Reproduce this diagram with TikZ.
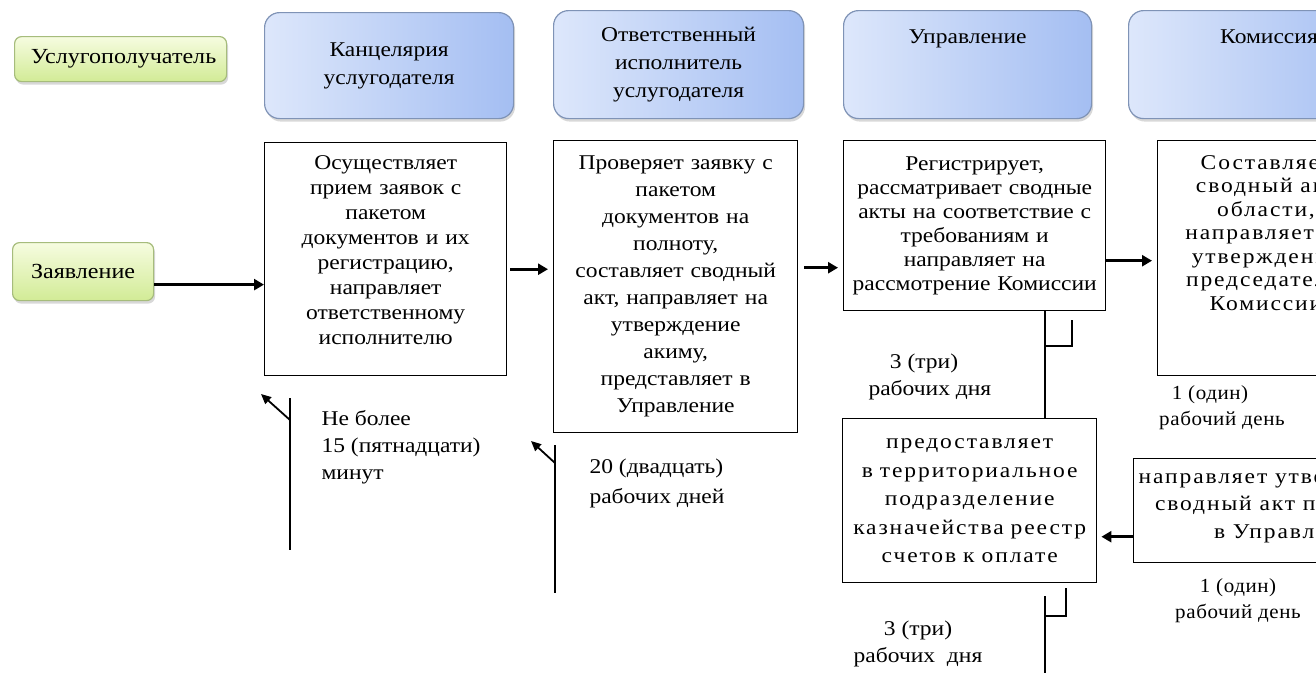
\documentclass[tikz,border=0pt]{standalone}
\usepackage{fontspec}
\setmainfont{Liberation Serif}[FakeStretch=1.12]
\newfontfamily\widefont{Liberation Serif}[FakeStretch=1.12, LetterSpace=9]
\newfontfamily\notefont{Liberation Serif}[FakeStretch=1.05, LetterSpace=3]
\usetikzlibrary{arrows.meta,shadows}
\definecolor{hdrlight}{HTML}{DDE7FB}
\definecolor{hdrdark}{HTML}{A4BEF2}
\definecolor{hdrline}{HTML}{7F93B6}
\definecolor{grnlight}{HTML}{F6FCE0}
\definecolor{grndark}{HTML}{D2EB96}
\definecolor{grnline}{HTML}{A6BC7C}
\newcommand\padbot[1]{\rule[-#1pt]{0pt}{#1pt}}
\tikzset{
  hdrbox/.style={draw=hdrline, line width=1.2pt, rounded corners=15pt,
    left color=hdrlight, right color=hdrdark, anchor=north west,
    drop shadow={shadow xshift=1.5pt, shadow yshift=-3pt, opacity=.3},
    align=center, inner sep=0pt, font=\fontsize{21}{28}\selectfont},
  grnbox/.style={draw=grnline, line width=1.2pt, rounded corners=7pt,
    top color=grnlight, bottom color=grndark, anchor=north west,
    drop shadow={shadow xshift=1.5pt, shadow yshift=-3pt, opacity=.3},
    align=center, inner sep=0pt, font=\fontsize{21.5}{24}\selectfont},
  procbox/.style={draw, line width=1.4pt, fill=white, anchor=north west,
    align=center, inner xsep=5pt, inner ysep=0pt,
    font=\fontsize{21}{25}\selectfont},
  flow/.style={line width=3pt, -{Triangle[length=10pt,width=11pt]}},
  tick/.style={line width=1.8pt, -{Triangle[length=10pt,width=9pt]}},
  rule/.style={line width=1.2pt},
  note/.style={align=center, font=\fontsize{21}{27}\selectfont},
  daynote/.style={align=center, font=\notefont\fontsize{20}{26}\selectfont}
}
\begin{document}
\begin{tikzpicture}[x=1pt, y=-1pt]
  \fill[white] (0,0) rectangle (1316,673);
  \clip (0,0) rectangle (1316,673);
  % Kopfzeile
  \node[grnbox, minimum width=212, minimum height=45] (client) at (14,36) {\hspace*{6pt}Услугополучатель};
  \node[hdrbox, minimum width=249, minimum height=106] (hoffice) at (264,12) {Канцелярия\\услугодателя};
  \node[hdrbox, minimum width=250, minimum height=108] (hexec) at (553,10) {Ответственный\\исполнитель\\услугодателя};
  \node[hdrbox, minimum width=248, minimum height=108] (hdept) at (843,10) {Управление\\ ~\\ ~};
  \node[hdrbox, minimum width=250, minimum height=108] (hcomm) at (1128,10) {};
  \node[font=\fontsize{21}{28}\selectfont] (hcommtext) at (1269,37) {Комиссия};
  % Ablauf
  \node[grnbox, minimum width=141, minimum height=58] (claim) at (12,242) {Заявление};
  \node[procbox, text width=232, minimum height=233] (office) at (264,142)
    {Осуществляет\\прием заявок с\\пакетом\\документов и их\\регистрацию,\\направляет\\ответственному\\исполнителю\padbot{18}};
  \node[procbox, text width=234, minimum height=292, font=\fontsize{21}{27}\selectfont] (exec) at (553,140)
    {Проверяет заявку с\\пакетом\\документов на\\полноту,\\составляет сводный\\акт, направляет на\\утверждение\\акиму,\\представляет в\\Управление};
  \node[procbox, text width=252, minimum height=170, font=\fontsize{21}{24}\selectfont] (dept) at (843,140)
    {Регистрирует,\\рассматривает сводные\\акты на соответствие с\\требованиям и\\направляет на\\рассмотрение Комиссии};
  \node[procbox, minimum width=250, minimum height=235] (comm) at (1157,140) {};
  \node[align=center, font=\widefont\fontsize{21}{23.5}\selectfont] (commtext) at (1266,233)
    {Составляет\\сводный акт\\области,\\направляет на\\утверждение\\председателю\\Комиссии};
  \node[procbox, text width=244, minimum height=164, font=\widefont\fontsize{21}{28.5}\selectfont] (treas) at (842,418)
    {предоставляет\\в территориальное\\подразделение\\казначейства реестр\\счетов к оплате};
  \node[procbox, minimum width=290, minimum height=104] (send) at (1133,458) {};
  \node[align=center, font=\widefont\fontsize{21}{27.5}\selectfont] (sendtext) at (1291,506)
    {направляет утвержденный\\сводный акт по области\\в Управление};
  % Pfeile
  \draw[flow] ([yshift=-13pt]claim.east) -- ([yshift=-13pt]claim.east -| office.west);
  \draw[flow, shorten <=3pt, shorten >=5pt] ([yshift=-10pt]office.east) -- ([yshift=-10pt]office.east -| exec.west);
  \draw[flow, shorten <=6pt, shorten >=5pt] ([yshift=19pt]exec.east) -- ([yshift=19pt]exec.east -| dept.west);
  \draw[flow, shorten >=5pt] ([yshift=-35pt]dept.east) -- ([yshift=-35pt]dept.east -| comm.west);
  \draw[flow, shorten >=4pt] ([yshift=-26pt]send.west) -- ([yshift=-26pt]send.west -| treas.east);
  % Fristen
  \coordinate (m1) at (290,420);
  \coordinate (m2) at (555,463);
  \draw[rule] (290,398) -- (290,550);
  \draw[tick] (m1) -- (261,394);
  \draw[rule] (555,445) -- (555,593);
  \draw[tick] (m2) -- (531,441);
  \node[note, align=left, anchor=north west] (t1) at (318,407) {Не более\\15 (пятнадцати)\\минут};
  \node[note, align=left, anchor=north west, font=\fontsize{21}{30}\selectfont] (t2) at (586,455) {20 (двадцать)\\рабочих дней};
  \draw[rule] ([xshift=202pt]dept.south west) -- ([xshift=203pt]treas.north west);
  \draw[rule] (1072,320) -- (1072,346) -- (1045,346);
  \node[note] (t3) at (924,377) {3 (три)\\\ \ рабочих дня};
  \node[daynote] (t4) at (1222,408) {1 (один)\hspace*{24pt}\\рабочий день};
  \draw[rule] ([xshift=203pt]treas.south west) ++(0,13) -- (1045,673);
  \draw[rule] (1066,588) -- (1066,616) -- (1045,616);
  \node[daynote] (t5) at (1238,601) {1 (один)\\рабочий день};
  \node[note] (t6) at (918,644) {3 (три)\\рабочих \ дня};
\end{tikzpicture}
\end{document}
